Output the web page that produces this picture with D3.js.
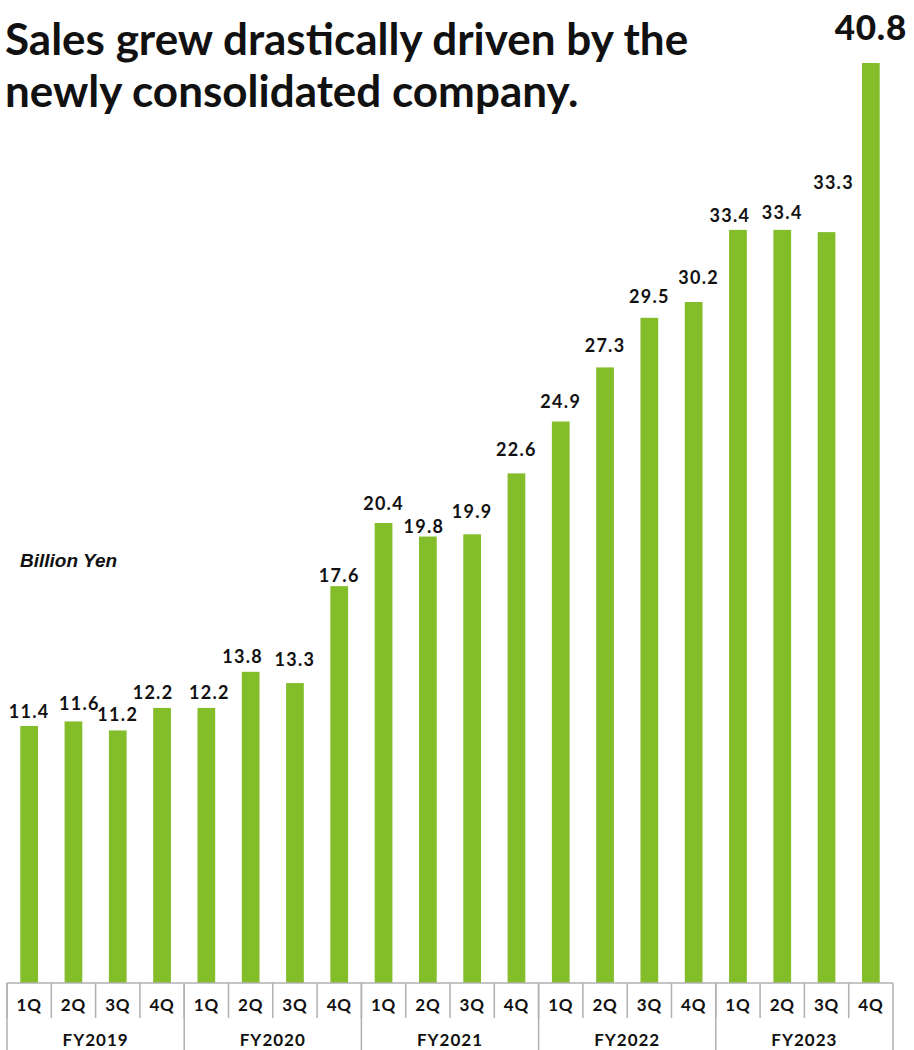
<!DOCTYPE html>
<html>
<head>
<meta charset="utf-8">
<script src="https://cdn.jsdelivr.net/npm/d3@7"></script>
<style>
  html, body { margin: 0; padding: 0; background: #fff; }
  svg { display: block; }
</style>
</head>
<body>
<div id="chart"></div>
<script>
// Quarterly sales, billion yen
const fiscalYears = ["FY2019", "FY2020", "FY2021", "FY2022", "FY2023"];
const quarters = ["1Q", "2Q", "3Q", "4Q"];
const sales = [
  11.4, 11.6, 11.2, 12.2,
  12.2, 13.8, 13.3, 17.6,
  20.4, 19.8, 19.9, 22.6,
  24.9, 27.3, 29.5, 30.2,
  33.4, 33.4, 33.3, 40.8
];
const titleLines = ["Sales grew drastically driven by the", "newly consolidated company."];
const unitLabel = "Billion Yen";

// Layout
const W = 914, H = 1050;
const baseY = 983;
const left = 7, right = 893;
const barColor = "#83bd2a";
const axisColor = "#b0b0b0";
const labelFont = "Lato, 'Noto Sans', sans-serif";

// Hand-placed value labels: [horizontal shift, gap between bar top and baseline]
const labelNudge = [
  [0, 8], [6, 11], [0, 9], [-9, 9],
  [3, 9], [-8, 9], [0, 17], [0, 4],
  [0, 13], [-4, 4], [0, 16], [0, 17],
  [0, 14], [0, 15], [0, 15], [5, 18],
  [-8, 8], [0, 11], [7, 43], [0, 23]
];

const periods = [];
fiscalYears.forEach(fy => quarters.forEach(q => periods.push({ fy, q, key: fy + "-" + q })));
const data = periods.map((p, i) => ({ ...p, value: sales[i], i }));

const svg = d3.select("#chart").append("svg")
  .attr("width", W).attr("height", H);

const x = d3.scaleBand()
  .domain(data.map(d => d.key))
  .range([left, right])
  .paddingInner(0.6)
  .paddingOuter(0.3);

const xCat = d3.scaleBand()
  .domain(data.map(d => d.key))
  .range([left, right]);

const xYear = d3.scaleBand()
  .domain(fiscalYears)
  .range([left, right]);

const y = d3.scaleLinear()
  .domain([0, d3.max(sales)])
  .range([baseY, 63]);

// Bars
svg.append("g").selectAll("rect")
  .data(data)
  .join("rect")
  .attr("x", d => x(d.key))
  .attr("y", d => y(d.value))
  .attr("width", x.bandwidth())
  .attr("height", d => baseY - y(d.value))
  .attr("fill", barColor);

// Value labels
const last = data.length - 1;
svg.append("g").selectAll("text")
  .data(data)
  .join("text")
  .attr("x", d => x(d.key) + x.bandwidth() / 2 + labelNudge[d.i][0])
  .attr("y", d => y(d.value) - labelNudge[d.i][1])
  .attr("text-anchor", "middle")
  .attr("font-family", labelFont)
  .attr("font-weight", d => d.i === last ? 900 : 700)
  .attr("font-size", d => d.i === last ? 35 : 18)
  .attr("letter-spacing", d => d.i === last ? 0.8 : 1.3)
  .attr("fill", "#111")
  .text(d => d.value.toFixed(1));

// Category axis: baseline, quarter dividers, year dividers
const axis = svg.append("g");
axis.append("line")
  .attr("x1", left).attr("x2", right)
  .attr("y1", baseY).attr("y2", baseY)
  .attr("stroke", axisColor).attr("stroke-width", 1.5);

axis.selectAll(".qtick")
  .data(data)
  .join("line")
  .attr("class", "qtick")
  .attr("x1", d => xCat(d.key)).attr("x2", d => xCat(d.key))
  .attr("y1", baseY).attr("y2", 1018)
  .attr("stroke", axisColor).attr("stroke-width", 1.5);

axis.selectAll(".ytick")
  .data([...fiscalYears.map(f => xYear(f)), right])
  .join("line")
  .attr("class", "ytick")
  .attr("x1", d => d).attr("x2", d => d)
  .attr("y1", baseY).attr("y2", H)
  .attr("stroke", axisColor).attr("stroke-width", 1.5);

axis.selectAll(".qlabel")
  .data(data)
  .join("text")
  .attr("class", "qlabel")
  .attr("x", d => xCat(d.key) + xCat.bandwidth() / 2)
  .attr("y", 1011)
  .attr("text-anchor", "middle")
  .attr("font-family", labelFont)
  .attr("font-weight", 700)
  .attr("font-size", 17)
  .attr("letter-spacing", 0.8)
  .attr("fill", "#111")
  .text(d => d.q);

axis.selectAll(".ylabel")
  .data(fiscalYears)
  .join("text")
  .attr("class", "ylabel")
  .attr("x", d => xYear(d) + xYear.bandwidth() / 2)
  .attr("y", 1046)
  .attr("text-anchor", "middle")
  .attr("font-family", labelFont)
  .attr("font-weight", 700)
  .attr("font-size", 17)
  .attr("letter-spacing", 1)
  .attr("fill", "#111")
  .text(d => d);

// Unit label
svg.append("text")
  .attr("x", 20).attr("y", 567)
  .attr("font-family", "'Liberation Sans', Arial, sans-serif")
  .attr("font-weight", 700)
  .attr("font-style", "italic")
  .attr("font-size", 19)
  .attr("fill", "#111")
  .text(unitLabel);

// Title
svg.append("g").selectAll("text")
  .data(titleLines)
  .join("text")
  .attr("x", 5)
  .attr("y", (d, i) => 55 + i * 52)
  .attr("font-family", labelFont)
  .attr("font-weight", 700)
  .attr("font-size", 44)
  .attr("fill", "#111")
  .text(d => d);
</script>
</body>
</html>
